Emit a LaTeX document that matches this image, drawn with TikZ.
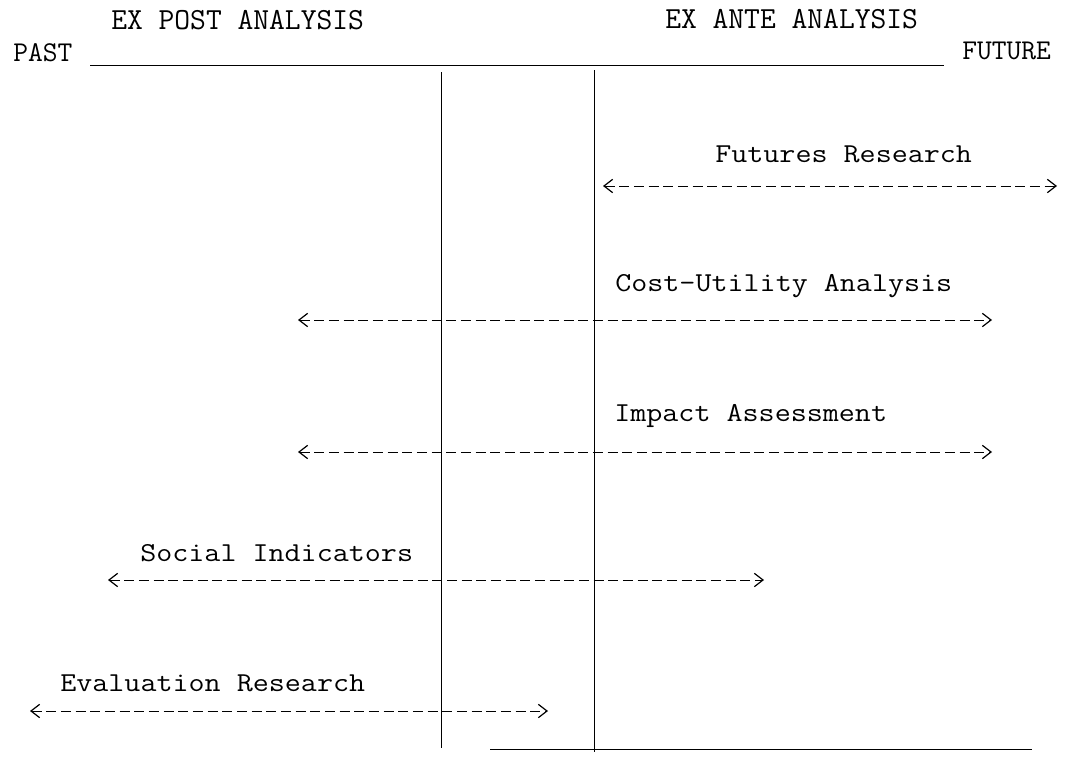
\documentclass[tikz,border=0pt]{standalone}
\usepackage{graphicx}
\usetikzlibrary{arrows.meta}
\newcommand{\lblwide}[1]{\scalebox{1.14}[1]{#1}}
\tikzset{
  lbl/.style={inner sep=0pt, anchor=base west, font=\ttfamily\fontsize{20.5}{24}\selectfont},
  hdr/.style={inner sep=0pt, anchor=base west, font=\ttfamily\fontsize{23}{26}\selectfont},
  side/.style={inner sep=0pt, anchor=base west, font=\ttfamily\fontsize{21.5}{25}\selectfont},
  solidline/.style={line width=0.75pt},
  darrow/.style={line width=0.75pt, dash pattern=on 7.5pt off 3.5pt,
    {Straight Barb[length=6.5pt,width=10pt,line width=0.9pt]}-{Straight Barb[length=6.5pt,width=10pt,line width=0.9pt]}}
}
\begin{document}
\begin{tikzpicture}[x=0.75pt,y=-0.75pt]
\useasboundingbox (0,0) rectangle (1070,757);
% headers
\node[hdr] (post) at (111,29) {EX POST ANALYSIS};
\node[hdr] (ante) at (665,28) {EX ANTE ANALYSIS};
\node[side] (past) at (13,61) {PAST};
\node[side] (future) at (962,59) {FUTURE};
% axis and separators
\coordinate (axl) at (90,65);
\coordinate (axr) at (944,65);
\draw[solidline] (axl) -- (axr);
\coordinate (v1t) at (441,72);
\coordinate (v1b) at (441,748);
\coordinate (v2t) at (594,70);
\coordinate (v2b) at (594,752);
\draw[solidline] (v1t) -- (v1b);
\draw[solidline] (v2t) -- (v2b);
\coordinate (bl) at (490,749);
\coordinate (br) at (1032,749);
\draw[line width=0.7pt] (bl) -- (br);
% labels
\node[lbl] (fr) at (715,162) {\lblwide{Futures Research}};
\node[lbl] (cu) at (615,291) {\lblwide{Cost-Utility Analysis}};
\node[lbl] (ia) at (614,421) {\lblwide{Impact Assessment}};
\node[lbl] (si) at (140,561) {\lblwide{Social Indicators}};
\node[lbl] (er) at (60,691) {\lblwide{Evaluation Research}};
% ranges
\coordinate (frl) at (603,186); \coordinate (frr) at (1057,186);
\coordinate (cul) at (298,320); \coordinate (cur) at (992,320);
\coordinate (ial) at (298,452); \coordinate (iar) at (992,452);
\coordinate (sil) at (108,580); \coordinate (sir) at (764,580);
\coordinate (erl) at (30,711);  \coordinate (err) at (548,711);
\draw[darrow] (frl) -- (frr);
\draw[darrow] (cul) -- (cur);
\draw[darrow] (ial) -- (iar);
\draw[darrow] (sil) -- (sir);
\draw[darrow] (erl) -- (err);
\end{tikzpicture}
\end{document}
